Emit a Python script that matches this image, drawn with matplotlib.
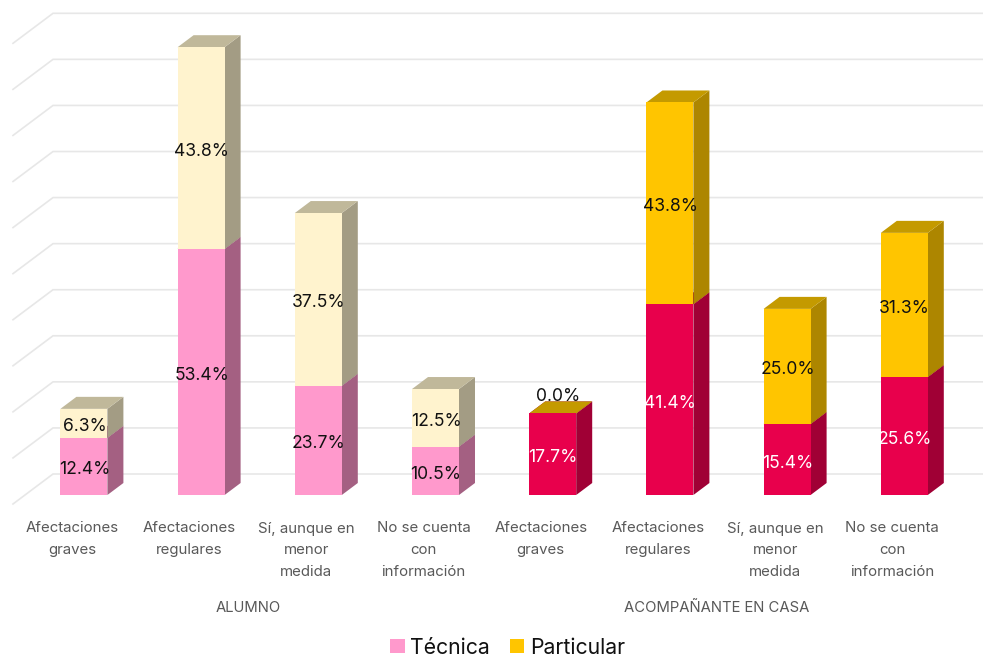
#!/usr/bin/env python3
import matplotlib.pyplot as plt
from matplotlib.patches import Polygon, Patch

plt.switch_backend('Agg')
plt.rcParams['font.family'] = ['Inter', 'DejaVu Sans']

# Data
categories = ['Afectaciones\ngraves', 'Afectaciones\nregulares',
              'Sí, aunque en\nmenor\nmedida', 'No se cuenta\ncon\ninformación'] * 2
groups = ['ALUMNO', 'ACOMPAÑANTE EN CASA']
tecnica = [12.4, 53.4, 23.7, 10.5, 17.7, 41.4, 15.4, 25.6]
particular = [6.3, 43.8, 37.5, 12.5, 0.0, 43.8, 25.0, 31.3]
grid_values = [0, 10, 20, 30, 40, 50, 60, 70, 80, 90, 100]

# Colours per bar group: (front, side, top)
pink = ('#FF99CC', '#A46082', '#A46082')
cream = ('#FFF3CE', '#A39C84', '#C0B89A')
red = ('#E8004C', '#A00035', '#A00035')
gold = ('#FFC500', '#AD8600', '#C49A00')

W, H = 983, 656
PX_X = 117.2     # pixels per category
PX_Y = 4.607     # pixels per percent
X0 = 83.9        # centre of first bar, px
Y0 = 495         # baseline, px

fig = plt.figure(figsize=(W / 100, H / 100), dpi=100)
ax = fig.add_axes([0, 0, 1, 1])
ax.set_xlim((0 - X0) / PX_X, (W - X0) / PX_X)
ax.set_ylim((Y0 - H) / PX_Y, Y0 / PX_Y)
ax.axis('off')

bar_w = 47 / PX_X
dx = 16 / PX_X
dy = 12 / PX_Y
grid_dx = 40 / PX_X
grid_dy = 30 / PX_Y
grid_left = (13 - X0) / PX_X
grid_right = (W - X0) / PX_X
grid_c = '#E7E7E7'

# Grid: back wall lines and the diagonals on the side wall
for v in grid_values:
    y = v + (Y0 - 504) / PX_Y
    ax.plot([grid_left, grid_left + grid_dx, grid_right], [y, y + grid_dy, y + grid_dy],
            color=grid_c, lw=1.2, zorder=1, solid_joinstyle='miter')


def draw_box(i, bottom, top, cols):
    l = i - bar_w / 2
    r = i + bar_w / 2
    ax.add_patch(Polygon([(r, bottom), (r + dx, bottom + dy), (r + dx, top + dy), (r, top)],
                         fc=cols[1], ec='none', zorder=3))
    ax.add_patch(Polygon([(l, top), (r, top), (r + dx, top + dy), (l + dx, top + dy)],
                         fc=cols[2], ec='none', zorder=3))
    ax.add_patch(Polygon([(l, bottom), (r, bottom), (r, top), (l, top)],
                         fc=cols[0], ec='none', zorder=4))


for i, (t, p) in enumerate(zip(tecnica, particular)):
    second = i >= 4
    draw_box(i, 0, t, red if second else pink)
    draw_box(i, t, t + p, gold if second else cream)

    ax.text(i + 0.5 / PX_X, t / 2 - 3.5 / PX_Y, '%.1f%%' % t, ha='center', va='center', fontsize=12.6,
            color='white' if second else '#111111', zorder=5)
    py = t + p / 2 - 3.5 / PX_Y
    if p == 0:
        py = t + 17 / PX_Y
    ax.text(i + ((5 if p == 0 else 0) + 0.5) / PX_X, py, '%.1f%%' % p, ha='center', va='center',
            fontsize=12.6, color='#111111', zorder=5)

    ax.text(i - 12 / PX_X, (Y0 - 521.5) / PX_Y, categories[i], ha='center', va='top',
            fontsize=10.8, color='#595959', linespacing=1.72)

# Group labels
for name, cx in zip(groups, [248, 716.5]):
    ax.text((cx - X0) / PX_X, (Y0 - 607.5) / PX_Y, name, ha='center',
            va='center', fontsize=10.7, color='#595959')

handles = [Patch(fc=pink[0], ec='none', label='Técnica'),
           Patch(fc=gold[0], ec='none', label='Particular')]
fig.legend(handles=handles, loc='center', bbox_to_anchor=(507.5 / W, 1 - 647.5 / H),
           ncol=2, frameon=False, fontsize=15.3, handlelength=0.68, handleheight=0.68,
           handletextpad=0.25, columnspacing=0.96, labelcolor='#111111')

fig.savefig('out.png', dpi=100)
